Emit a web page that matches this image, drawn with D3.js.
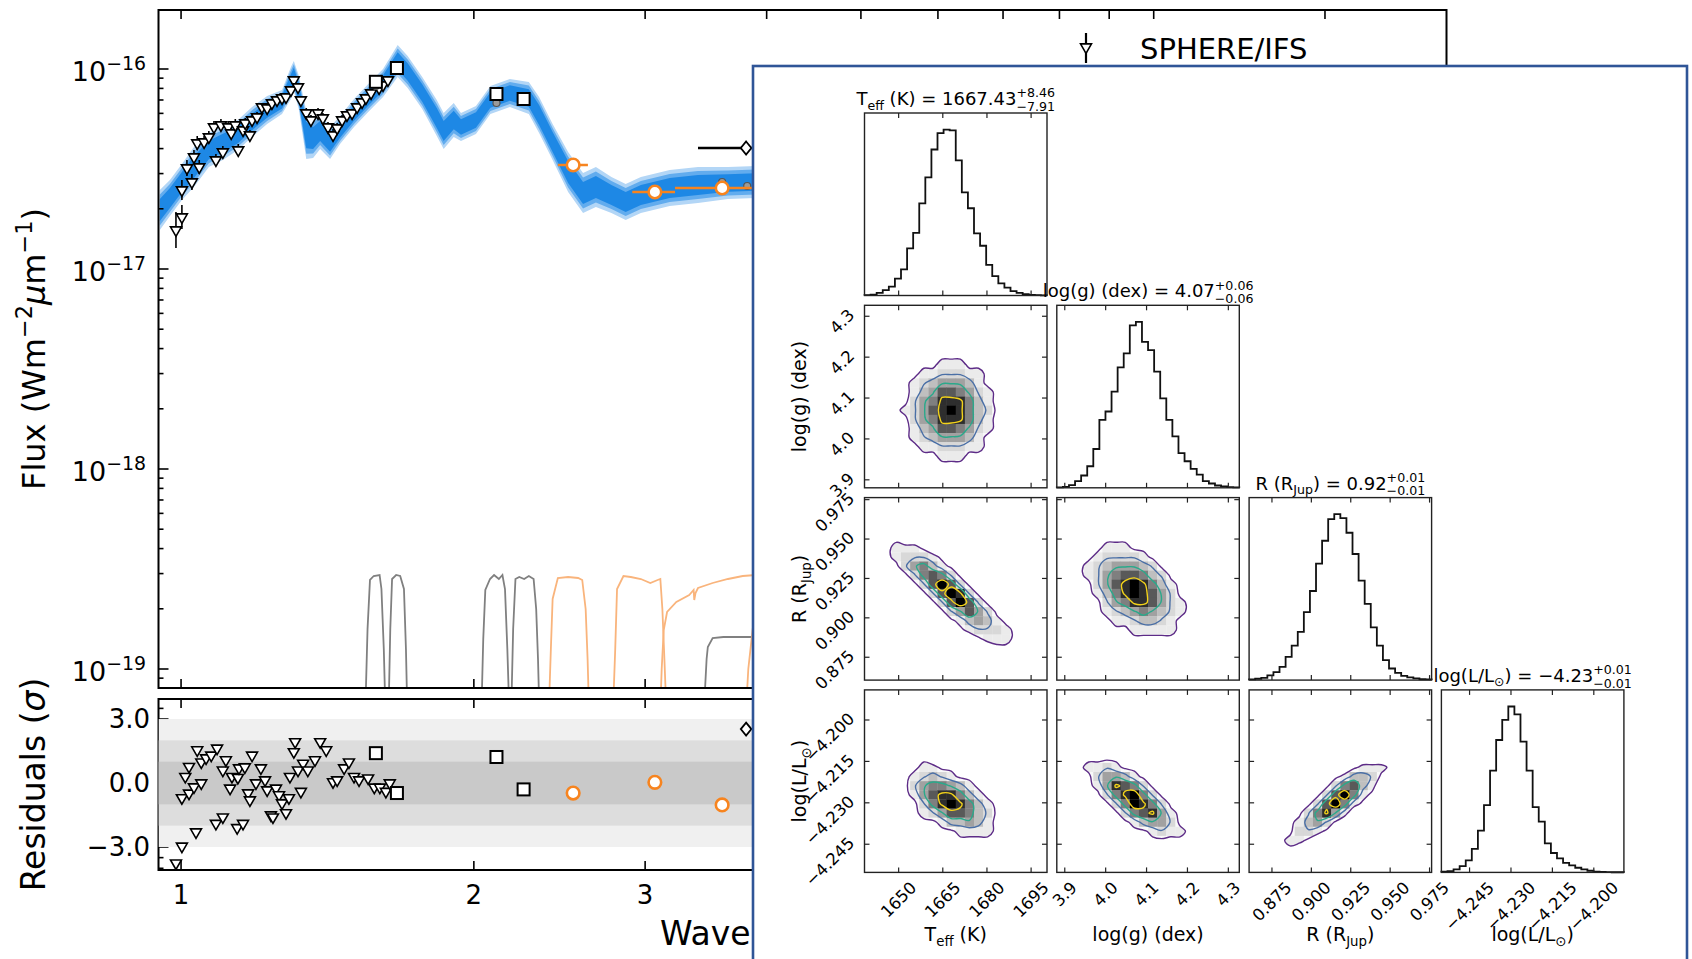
<!DOCTYPE html>
<html>
<head>
<meta charset="utf-8">
<script src="https://cdn.jsdelivr.net/npm/d3@7"></script>
<style>
  body { margin: 0; background: #fff; }
  svg text { font-family: "DejaVu Sans", sans-serif; fill: #000; }
</style>
</head>
<body>
<svg id="chart" width="1692" height="959"></svg>
<script>
/* global d3 */

// ---------------- spectrum panel data ----------------

var waveTicks = [1, 2, 3, 4, 5, 6, 7, 8, 9, 10, 15];
var waveTickLabels = ['1', '2', '3', '4', '5', '6', '7', '8', '9', '10', '15'];
var fluxDecades = [-16, -17, -18, -19];
var resTicks = [3, 0, -3];
var resTickLabels = ['3.0', '0.0', '\u22123.0'];

// best-fit model spectrum (log10 flux) and spread of the sampled models (dex)
var modelWave = [0.951, 0.974, 1.002, 1.031, 1.068, 1.104, 1.144, 1.183, 1.226, 1.27,
  1.297, 1.306, 1.322, 1.345, 1.367, 1.39, 1.423, 1.457, 1.506, 1.561,
  1.613, 1.67, 1.71, 1.77, 1.832, 1.862, 1.907, 1.94, 2.01, 2.08,
  2.178, 2.278, 2.334, 2.41, 2.5, 2.59, 2.67, 2.77, 2.865, 2.97,
  3.18, 3.4, 3.65, 3.9, 4.2];
var modelLogFlux = [-16.705, -16.645, -16.565, -16.49, -16.405, -16.37, -16.33, -16.265, -16.205, -16.165,
  -16.07, -16.035, -16.12, -16.33, -16.345, -16.31, -16.37, -16.305, -16.22, -16.14,
  -16.07, -15.96, -16.015, -16.12, -16.245, -16.31, -16.255, -16.29, -16.255, -16.155,
  -16.12, -16.145, -16.23, -16.365, -16.515, -16.62, -16.59, -16.63, -16.665, -16.63,
  -16.595, -16.58, -16.57, -16.565, -16.56];
var modelSpread = [0.1, 0.09, 0.09, 0.1, 0.085, 0.085, 0.075, 0.075, 0.07, 0.06,
  0.08, 0.075, 0.085, 0.12, 0.1, 0.09, 0.08, 0.07, 0.07, 0.07,
  0.07, 0.08, 0.08, 0.08, 0.09, 0.09, 0.085, 0.07, 0.07, 0.07,
  0.07, 0.08, 0.09, 0.09, 0.1, 0.1, 0.1, 0.09, 0.09, 0.09,
  0.09, 0.09, 0.08, 0.08, 0.08];

// SPHERE/IFS spectrum
var ifsWave = [0.988, 1.002, 1.002, 1.014, 1.026, 1.031, 1.039, 1.044, 1.056, 1.068,
  1.081, 1.086, 1.099, 1.104, 1.118, 1.126, 1.137, 1.145, 1.158, 1.164,
  1.177, 1.183, 1.197, 1.211, 1.226, 1.24, 1.255, 1.27, 1.282, 1.297,
  1.306, 1.319, 1.328, 1.345, 1.36, 1.383, 1.399, 1.416, 1.433, 1.447,
  1.464, 1.481, 1.499, 1.517, 1.535, 1.549, 1.568, 1.598, 1.613, 1.632];
var ifsLogFlux = [-16.805, -16.74, -16.605, -16.495, -16.565, -16.44, -16.37, -16.49, -16.365, -16.34,
  -16.29, -16.455, -16.28, -16.415, -16.29, -16.32, -16.28, -16.405, -16.305, -16.27,
  -16.33, -16.255, -16.24, -16.19, -16.195, -16.17, -16.155, -16.145, -16.14, -16.105,
  -16.055, -16.09, -16.155, -16.22, -16.255, -16.22, -16.245, -16.29, -16.33, -16.295,
  -16.255, -16.23, -16.22, -16.19, -16.165, -16.145, -16.12, -16.095, -16.08, -16.055];
var ifsErr = [0.09, 0.06, 0.05, 0.04, 0.04, 0.035, 0.035, 0.035, 0.03, 0.03,
  0.03, 0.03, 0.03, 0.03, 0.03, 0.03, 0.03, 0.03, 0.025, 0.025,
  0.025, 0.025, 0.025, 0.02, 0.02, 0.02, 0.02, 0.02, 0.02, 0.02,
  0.02, 0.02, 0.02, 0.025, 0.025, 0.025, 0.025, 0.025, 0.03, 0.025,
  0.025, 0.02, 0.02, 0.02, 0.02, 0.02, 0.02, 0.02, 0.02, 0.02];
var ifsResWave = [0.988, 1.002, 1.002, 1.01, 1.019, 1.019, 1.031, 1.036, 1.039, 1.049,
  1.049, 1.061, 1.074, 1.086, 1.089, 1.104, 1.104, 1.112, 1.123, 1.128,
  1.142, 1.144, 1.147, 1.158, 1.163, 1.172, 1.177, 1.183, 1.194, 1.208,
  1.22, 1.226, 1.237, 1.243, 1.252, 1.261, 1.27, 1.282, 1.291, 1.294,
  1.306, 1.31, 1.319, 1.328, 1.335, 1.35, 1.373, 1.39, 1.41, 1.433,
  1.447, 1.471, 1.488, 1.506, 1.524, 1.557, 1.58, 1.601, 1.624, 1.639];
var ifsRes = [-3.76, -2.97, -0.7, 0.3, -0.48, 0.77, -0.19, -2.3, 1.55, 0.98,
  0, 1.17, 1.3, -1.9, 1.63, -1.6, 0.6, 1.08, -0.25, 0.3,
  -2.1, 0.25, 0.7, -1.9, 0.75, -0.47, -0.8, 1.3, 0, 0.7,
  0.14, -0.33, -1.5, -1.6, -0.25, -0.56, -0.94, -1.4, -0.7, 0.3,
  1.46, 1.93, 0.6, -0.4, 0.92, 0.6, 1.08, 1.93, 1.55, 0.05,
  0.14, 0.7, 0.98, 0.3, 0.14, 0.23, -0.2, -0.2, -0.4, 0];

// broad-band photometry (squares)
var irdisWave = [1.586, 1.667, 2.11, 2.25];
var irdisLogFlux = [-16.064, -15.995, -16.125, -16.15];
var irdisRes = [1.4, -0.47, 1.22, -0.3];

// thermal IR photometry (orange circles)
var lpWave = [2.53, 3.07, 3.6];
var lpWaveLo = [2.44, 2.91, 3.22];
var lpWaveHi = [2.62, 3.22, 3.9];
var lpLogFlux = [-16.48, -16.615, -16.595];
var lpRes = [-0.47, 0.03, -1.03];

// diamond point
var dWave = [3.81];
var dWaveLo = [3.4];
var dWaveHi = [4.3];
var dLogFlux = [-16.395];
var dRes = [2.53];

// model photometry (small grey circles)
var synthWave = [1.586, 1.667, 2.11, 2.25, 3.6, 3.82];
var synthLogFlux = [-16.085, -16.0, -16.17, -16.14, -16.565, -16.585];

// filter transmission curves, drawn in flux units
var greyFilters = [
  [[1.545, -19.3], [1.555, -18.8], [1.564, -18.555], [1.578, -18.535], [1.6, -18.53], [1.607, -18.6], [1.616, -18.9], [1.624, -19.3]],
  [[1.633, -19.3], [1.641, -18.8], [1.648, -18.55], [1.664, -18.53], [1.68, -18.535], [1.695, -18.6], [1.703, -18.9], [1.71, -19.3]],
  [[2.034, -19.3], [2.045, -18.85], [2.055, -18.605], [2.078, -18.55], [2.098, -18.53], [2.122, -18.55], [2.14, -18.53], [2.153, -18.6], [2.165, -18.9], [2.178, -19.3]],
  [[2.183, -19.3], [2.195, -18.8], [2.207, -18.55], [2.227, -18.54], [2.253, -18.55], [2.278, -18.535], [2.304, -18.55], [2.318, -18.7], [2.328, -18.95], [2.338, -19.3]],
  [[3.44, -19.3], [3.47, -18.95], [3.48, -18.89], [3.52, -18.845], [3.61, -18.84], [4.2, -18.84]]
];
var orangeFilters = [
  [[2.385, -19.3], [2.4, -18.9], [2.41, -18.65], [2.44, -18.545], [2.5, -18.54], [2.56, -18.545], [2.585, -18.555], [2.606, -18.7], [2.618, -18.95], [2.63, -19.3]],
  [[2.776, -19.3], [2.795, -18.9], [2.807, -18.6], [2.85, -18.535], [2.9, -18.54], [2.97, -18.55], [3.037, -18.57], [3.09, -18.555], [3.11, -18.55], [3.125, -18.7], [3.14, -18.95], [3.16, -19.3]],
  [[3.105, -19.3], [3.12, -19.0], [3.135, -18.805], [3.16, -18.715], [3.23, -18.665], [3.33, -18.63], [3.365, -18.605], [3.37, -18.655], [3.38, -18.62], [3.4, -18.595], [3.52, -18.57], [3.65, -18.55], [3.78, -18.535], [3.9, -18.53], [4.3, -18.53]],
  [[3.8, -19.3], [3.83, -19.0], [3.87, -18.8], [3.95, -18.6], [4.3, -18.55]]
];

// ---------------- corner plot data ----------------

var teffRange = [1638.4, 1700.4];
var loggRange = [3.8805, 4.3268];
var radiusRange = [0.8605, 0.9763];
var lumRange = [-4.2552, -4.1891];

var teffTicks = [1650, 1665, 1680, 1695];
var loggTicks = [3.9, 4.0, 4.1, 4.2, 4.3];
var radiusTicks = [0.875, 0.9, 0.925, 0.95, 0.975];
var lumTicks = [-4.245, -4.23, -4.215, -4.2];
var teffTickLabels = ['1650', '1665', '1680', '1695'];
var loggTickLabels = ['3.9', '4.0', '4.1', '4.2', '4.3'];
var radiusTickLabels = ['0.875', '0.900', '0.925', '0.950', '0.975'];
var lumTickLabels = ['\u22124.245', '\u22124.230', '\u22124.215', '\u22124.200'];

// 1-D posteriors, 30 bins across each range (counts, peak = 1000)
var teffHist = [2, 5, 16, 33, 53, 102, 157, 284, 378, 555, 712, 880, 979, 1000, 995, 814, 622, 526, 374, 300, 184, 117, 73, 48, 26, 16, 8, 4, 2, 1];
var loggHist = [2, 5, 16, 40, 74, 130, 234, 410, 460, 580, 726, 810, 979, 1000, 880, 830, 700, 539, 410, 310, 209, 160, 114, 80, 40, 26, 14, 8, 4, 2];
var radiusHist = [4, 8, 14, 29, 48, 80, 140, 208, 291, 410, 537, 702, 840, 970, 1000, 976, 888, 760, 600, 460, 318, 208, 121, 70, 44, 26, 16, 10, 5, 4];
var lumHist = [4, 8, 18, 38, 73, 142, 252, 405, 613, 798, 919, 1000, 952, 788, 613, 394, 306, 175, 117, 84, 58, 42, 28, 18, 10, 5, 3, 2, 1, 1];

// 2-D posteriors, 20x20 bins, density 0-9, rows from the top (high value) down
var teffLoggGrid = [
  '00000000000000000000', '00000000000000000000', '00000000000000000000', '00000000000000000000',
  '00000000000000000000', '00000001111100000000', '00000111222111000000', '00001122333221000000',
  '00001234555421100000', '00011245776532100000', '00011356888642110000', '00012357898643110000',
  '00011356888642110000', '00011245776532100000', '00001234555421100000', '00001122333221000000',
  '00000111222111000000', '00000001111100000000', '00000000000000000000', '00000000000000000000'
];
var teffRadiusGrid = [
  '00000000000000000000', '00000000000000000000', '00000000000000000000', '00000000000000000000',
  '00110000000000000000', '00122210000000000000', '00123332100000000000', '00013564210000000000',
  '00001367631000000000', '00000137973100000000', '00000013798310000000', '00000001379731000000',
  '00000000135753100000', '00000000012454210000', '00000000001233321000', '00000000000012221000',
  '00000000000000110000', '00000000000000000000', '00000000000000000000', '00000000000000000000'
];
var teffLumGrid = [
  '00000000000000000000', '00000000000000000000', '00000000000000000000', '00000000000000000000',
  '00000000000000000000', '00000000000000000000', '00000000000000000000', '00000110000000000000',
  '00011122110000000000', '00011234321100000000', '00011356654210000000', '00001257886421000000',
  '00001136898642100000', '00000123577643100000', '00000011244542110000', '00000000112222110000',
  '00000000001111100000', '00000000000000000000', '00000000000000000000', '00000000000000000000'
];
var loggRadiusGrid = [
  '00000000000000000000', '00000000000000000000', '00000000000000000000', '00000000000000000000',
  '00001111000000000000', '00111222111000000000', '00112333321100000000', '00123455543110000000',
  '00123567764311000000', '00113578986421000000', '00012468987531100000', '00011356887532100000',
  '00001234565432100000', '00000122344321100000', '00000011222221100000', '00000000111111000000',
  '00000000000000000000', '00000000000000000000', '00000000000000000000', '00000000000000000000'
];
var loggLumGrid = [
  '00000000000000000000', '00000000000000000000', '00000000000000000000', '00000000000000000000',
  '00000000000000000000', '00000000000000000000', '00010000000000000000', '00111110000000000000',
  '00122321100000000000', '00113554210000000000', '00012587631000000000', '00001368963100000000',
  '00000136986310000000', '00000013678521000000', '00000001245531100000', '00000000112322100000',
  '00000000001111100000', '00000000000000000000', '00000000000000000000', '00000000000000000000'
];
var radiusLumGrid = [
  '00000000000000000000', '00000000000000000000', '00000000000000000000', '00000000000000000000',
  '00000000000000000000', '00000000000000000000', '00000000000000000000', '00000000000000000000',
  '00000000000122210000', '00000000012443100000', '00000000136742000000', '00000001379621000000',
  '00000013796210000000', '00000136852000000000', '00001245310000000000', '00001332100000000000',
  '00012210000000000000', '00001000000000000000', '00000000000000000000', '00000000000000000000'
];

var contourLevels = [1.4, 3.2, 5.2, 7.6];

// ---------------- layout ----------------

var FIG = { left: 158.5, right: 1446.5, top: 10, bottom: 688, resTop: 699, resBottom: 870 };
var CORNER = { left: 864.5, top: 113, step: 192.3, size: 182.5 };
var INSET = { x: 753, y: 66, w: 934, h: 910 };

var BAND_COLORS = ['#b3d6f6', '#62acee', '#1e88e5'];
var ORANGE = '#f7841f';
var CONTOUR_COLORS = ['#5d2c87', '#4a6fa6', '#2aa98b', '#f2d21b'];

var svg = d3.select('#chart');
var defs = svg.append('defs');

var x = d3.scaleLog().domain([0.948, 20]).range([FIG.left, FIG.right]);
var yFlux = d3.scaleLog().domain([Math.pow(10, -19.095), Math.pow(10, -15.705)]).range([FIG.bottom, FIG.top]);
var yRes = d3.scaleLinear().domain([-4.08, 3.94]).range([FIG.resBottom, FIG.resTop]);

function fy(logF) { return yFlux(Math.pow(10, logF)); }


/**
 * Appends a text made of plain / superscript / subscript / italic pieces
 */
function addRich(parent, parts, size) {
  var t = parent.append('text').attr('font-size', size);
  var shift = 0;
  parts.forEach(function (p) {
    var ts = t.append('tspan').text(p.t);
    var target = p.sup ? -0.42 * size : (p.sub ? 0.25 * size : 0);
    if (target !== shift) { ts.attr('dy', target - shift); shift = target; }
    if (p.sup || p.sub) ts.attr('font-size', 0.7 * size);
    if (p.it) ts.attr('font-style', 'italic');
  });
  return t;
}

function downTriangle(g, cx, cy) {
  g.append('path')
    .attr('d', d3.symbol().type(d3.symbolTriangle).size(52)())
    .attr('transform', 'translate(' + cx + ',' + cy + ') rotate(180)')
    .attr('fill', '#fff').attr('stroke', '#000').attr('stroke-width', 1.6);
}

function square(g, cx, cy) {
  g.append('rect')
    .attr('x', cx - 6).attr('y', cy - 6).attr('width', 12).attr('height', 12)
    .attr('fill', '#fff').attr('stroke', '#000').attr('stroke-width', 2);
}

function orangeCircle(g, cx, cy) {
  g.append('circle').attr('cx', cx).attr('cy', cy).attr('r', 6.3)
    .attr('fill', '#fff').attr('stroke', ORANGE).attr('stroke-width', 2.6);
}

function diamond(g, cx, cy) {
  g.append('path').attr('d', 'M0,-6.5L5.3,0L0,6.5L-5.3,0Z')
    .attr('transform', 'translate(' + cx + ',' + cy + ')')
    .attr('fill', '#fff').attr('stroke', '#000').attr('stroke-width', 1.8);
}


// ---------------- upper panel: spectrum ----------------

defs.append('clipPath').attr('id', 'clipFlux').append('rect')
  .attr('x', FIG.left).attr('y', FIG.top)
  .attr('width', FIG.right - FIG.left).attr('height', FIG.bottom - FIG.top);

var fluxG = svg.append('g').attr('clip-path', 'url(#clipFlux)');

var modelPts = modelWave.map(function (w, i) {
  return { w: w, f: modelLogFlux[i], s: modelSpread[i] };
});

[1.0, 0.78, 0.55].forEach(function (k, i) {
  fluxG.append('path').datum(modelPts)
    .attr('fill', BAND_COLORS[i])
    .attr('d', d3.area()
      .x(function (d) { return x(d.w); })
      .y0(function (d) { return fy(d.f - d.s * k); })
      .y1(function (d) { return fy(d.f + d.s * k); }));
});

var filterLine = d3.line()
  .x(function (d) { return x(d[0]); })
  .y(function (d) { return fy(d[1]); });

greyFilters.forEach(function (f) {
  fluxG.append('path').datum(f).attr('d', filterLine)
    .attr('fill', 'none').attr('stroke', '#808080').attr('stroke-width', 1.8);
});
orangeFilters.forEach(function (f) {
  fluxG.append('path').datum(f).attr('d', filterLine)
    .attr('fill', 'none').attr('stroke', '#f9b47c').attr('stroke-width', 1.8);
});

// IFS spectrum
ifsWave.forEach(function (w, i) {
  fluxG.append('line')
    .attr('x1', x(w)).attr('x2', x(w))
    .attr('y1', fy(ifsLogFlux[i] - ifsErr[i])).attr('y2', fy(ifsLogFlux[i] + ifsErr[i]))
    .attr('stroke', '#000').attr('stroke-width', 1.6);
});
ifsWave.forEach(function (w, i) { downTriangle(fluxG, x(w), fy(ifsLogFlux[i])); });

// model photometry
synthWave.forEach(function (w, i) {
  fluxG.append('circle').attr('cx', x(w)).attr('cy', fy(synthLogFlux[i])).attr('r', 3.5)
    .attr('fill', '#9a9a9a').attr('stroke', '#555').attr('stroke-width', 1.2);
});

irdisWave.forEach(function (w, i) { square(fluxG, x(w), fy(irdisLogFlux[i])); });

lpWave.forEach(function (w, i) {
  fluxG.append('line')
    .attr('x1', x(lpWaveLo[i])).attr('x2', x(lpWaveHi[i]))
    .attr('y1', fy(lpLogFlux[i])).attr('y2', fy(lpLogFlux[i]))
    .attr('stroke', ORANGE).attr('stroke-width', 2.6);
});
lpWave.forEach(function (w, i) { orangeCircle(fluxG, x(w), fy(lpLogFlux[i])); });

dWave.forEach(function (w, i) {
  fluxG.append('line')
    .attr('x1', x(dWaveLo[i])).attr('x2', x(dWaveHi[i]))
    .attr('y1', fy(dLogFlux[i])).attr('y2', fy(dLogFlux[i]))
    .attr('stroke', '#000').attr('stroke-width', 2.6);
  diamond(fluxG, x(w), fy(dLogFlux[i]));
});

// frame, ticks and labels
var axG = svg.append('g').attr('stroke', '#000');

axG.append('rect')
  .attr('x', FIG.left).attr('y', FIG.top)
  .attr('width', FIG.right - FIG.left).attr('height', FIG.bottom - FIG.top)
  .attr('fill', 'none').attr('stroke-width', 2);

function xTicks(top, bottom) {
  waveTicks.forEach(function (t) {
    axG.append('line').attr('x1', x(t)).attr('x2', x(t))
      .attr('y1', bottom).attr('y2', bottom - 9).attr('stroke-width', 1.6);
    axG.append('line').attr('x1', x(t)).attr('x2', x(t))
      .attr('y1', top).attr('y2', top + 9).attr('stroke-width', 1.6);
  });
}
xTicks(FIG.top, FIG.bottom);

yFlux.ticks().forEach(function (v) {
  var lg = Math.log10(v);
  var major = Math.abs(lg - Math.round(lg)) < 1e-6;
  var len = major ? 10 : 5;
  var yy = yFlux(v);
  axG.append('line').attr('x1', FIG.left).attr('x2', FIG.left + len)
    .attr('y1', yy).attr('y2', yy).attr('stroke-width', 1.6);
  axG.append('line').attr('x1', FIG.right).attr('x2', FIG.right - len)
    .attr('y1', yy).attr('y2', yy).attr('stroke-width', 1.6);
});

fluxDecades.forEach(function (d) {
  var g = svg.append('g').attr('transform', 'translate(146,' + (fy(d) + 12) + ')');
  addRich(g, [{ t: '10' }, { t: '\u2212' + String(-d), sup: true }], 27)
    .attr('text-anchor', 'end');
});

var fluxLabel = svg.append('g').attr('transform', 'translate(45,' + ((FIG.top + FIG.bottom) / 2) + ') rotate(-90)');
addRich(fluxLabel, [
  { t: 'Flux (Wm' }, { t: '\u22122', sup: true }, { t: '\u03bc', it: true },
  { t: 'm' }, { t: '\u22121', sup: true }, { t: ')' }
], 32).attr('text-anchor', 'middle');


// ---------------- lower panel: residuals ----------------

defs.append('clipPath').attr('id', 'clipRes').append('rect')
  .attr('x', FIG.left).attr('y', FIG.resTop)
  .attr('width', FIG.right - FIG.left).attr('height', FIG.resBottom - FIG.resTop);

var resG = svg.append('g').attr('clip-path', 'url(#clipRes)');

[[3, '#f0f0f0'], [2, '#dddddd'], [1, '#c9c9c9']].forEach(function (b) {
  resG.append('rect')
    .attr('x', FIG.left).attr('width', FIG.right - FIG.left)
    .attr('y', yRes(b[0])).attr('height', yRes(-b[0]) - yRes(b[0]))
    .attr('fill', b[1]);
});

ifsResWave.forEach(function (w, i) { downTriangle(resG, x(w), yRes(ifsRes[i])); });
irdisWave.forEach(function (w, i) { square(resG, x(w), yRes(irdisRes[i])); });
lpWave.forEach(function (w, i) { orangeCircle(resG, x(w), yRes(lpRes[i])); });
dWave.forEach(function (w, i) { diamond(resG, x(w), yRes(dRes[i])); });

axG.append('rect')
  .attr('x', FIG.left).attr('y', FIG.resTop)
  .attr('width', FIG.right - FIG.left).attr('height', FIG.resBottom - FIG.resTop)
  .attr('fill', 'none').attr('stroke-width', 2);

xTicks(FIG.resTop, FIG.resBottom);

d3.range(-4, 4, 0.5).forEach(function (v) {
  var major = v % 3 === 0;
  var len = major ? 10 : 5;
  axG.append('line').attr('x1', FIG.left).attr('x2', FIG.left + len)
    .attr('y1', yRes(v)).attr('y2', yRes(v)).attr('stroke-width', 1.6);
  axG.append('line').attr('x1', FIG.right).attr('x2', FIG.right - len)
    .attr('y1', yRes(v)).attr('y2', yRes(v)).attr('stroke-width', 1.6);
});

resTicks.forEach(function (v, i) {
  svg.append('text').attr('x', 150).attr('y', yRes(v) + 9)
    .attr('font-size', 26).attr('text-anchor', 'end').text(resTickLabels[i]);
});

waveTicks.forEach(function (t, i) {
  svg.append('text').attr('x', x(t)).attr('y', 904)
    .attr('font-size', 26).attr('text-anchor', 'middle').text(waveTickLabels[i]);
});

var resLabel = svg.append('g').attr('transform', 'translate(45,' + ((FIG.resTop + FIG.resBottom) / 2) + ') rotate(-90)');
addRich(resLabel, [{ t: 'Residuals (' }, { t: '\u03c3', it: true }, { t: ')' }], 33)
  .attr('text-anchor', 'middle');

var wl = svg.append('g').attr('transform', 'translate(' + ((FIG.left + FIG.right) / 2) + ',945)');
addRich(wl, [{ t: 'Wavelength (' }, { t: '\u03bc', it: true }, { t: 'm)' }], 33)
  .attr('text-anchor', 'middle');

// legend
svg.append('line').attr('x1', 1086).attr('x2', 1086).attr('y1', 33).attr('y2', 63)
  .attr('stroke', '#000').attr('stroke-width', 2.2);
downTriangle(svg, 1086, 47);
svg.append('text').attr('x', 1140).attr('y', 59).attr('font-size', 29).text('SPHERE/IFS');


// ---------------- inset: corner plot ----------------

svg.append('rect')
  .attr('x', INSET.x).attr('y', INSET.y).attr('width', INSET.w).attr('height', INSET.h)
  .attr('fill', '#fff').attr('stroke', '#2f5597').attr('stroke-width', 2.6);

var cornerRanges = [teffRange, loggRange, radiusRange, lumRange];
var cornerTicks = [teffTicks, loggTicks, radiusTicks, lumTicks];
var cornerTickLabels = [teffTickLabels, loggTickLabels, radiusTickLabels, lumTickLabels];
var cornerHists = [teffHist, loggHist, radiusHist, lumHist];
var cornerGrids = {
  '1-0': teffLoggGrid, '2-0': teffRadiusGrid, '3-0': teffLumGrid,
  '2-1': loggRadiusGrid, '3-1': loggLumGrid, '3-2': radiusLumGrid
};
var cornerLabels = [
  [{ t: 'T' }, { t: 'eff', sub: true }, { t: ' (K)' }],
  [{ t: 'log(g) (dex)' }],
  [{ t: 'R (R' }, { t: 'Jup', sub: true }, { t: ')' }],
  [{ t: 'log(L/L' }, { t: '\u2299', sub: true }, { t: ')' }]
];
var cornerValues = [
  ['1667.43', '+8.46', '\u22127.91'],
  ['4.07', '+0.06', '\u22120.06'],
  ['0.92', '+0.01', '\u22120.01'],
  ['\u22124.23', '+0.01', '\u22120.01']
];

var cg = svg.append('g');
var smoothRing = d3.line().curve(d3.curveCatmullRomClosed);

function panelScales(r, c) {
  var px = CORNER.left + c * CORNER.step;
  var py = CORNER.top + r * CORNER.step;
  return {
    px: px, py: py,
    xs: d3.scaleLinear().domain(cornerRanges[c]).range([px, px + CORNER.size]),
    ys: d3.scaleLinear().domain(cornerRanges[r]).range([py + CORNER.size, py])
  };
}

function drawFrame(g, S, r, c, yTicksOn) {
  var fr = g.append('g').attr('stroke', '#222');
  fr.append('rect').attr('x', S.px).attr('y', S.py)
    .attr('width', CORNER.size).attr('height', CORNER.size)
    .attr('fill', 'none').attr('stroke-width', 1.4);
  cornerTicks[c].forEach(function (t) {
    var xx = S.xs(t);
    fr.append('line').attr('x1', xx).attr('x2', xx).attr('y1', S.py).attr('y2', S.py + 5).attr('stroke-width', 1.2);
    fr.append('line').attr('x1', xx).attr('x2', xx)
      .attr('y1', S.py + CORNER.size).attr('y2', S.py + CORNER.size - 5).attr('stroke-width', 1.2);
  });
  if (yTicksOn) {
    cornerTicks[r].forEach(function (t) {
      var yy = S.ys(t);
      fr.append('line').attr('x1', S.px).attr('x2', S.px + 5).attr('y1', yy).attr('y2', yy).attr('stroke-width', 1.2);
      fr.append('line').attr('x1', S.px + CORNER.size).attr('x2', S.px + CORNER.size - 5)
        .attr('y1', yy).attr('y2', yy).attr('stroke-width', 1.2);
    });
  }
}

function drawTitle(k, S) {
  var size = 18;
  var grp = cg.append('g');
  var parts = cornerLabels[k].concat([{ t: ' = ' + cornerValues[k][0] }]);
  var main = addRich(grp, parts, size);
  var w = main.node().getComputedTextLength();
  var up = grp.append('text').attr('x', w).attr('y', -0.42 * size).attr('font-size', 0.7 * size).text(cornerValues[k][1]);
  var dn = grp.append('text').attr('x', w).attr('y', 0.32 * size).attr('font-size', 0.7 * size).text(cornerValues[k][2]);
  var tw = w + Math.max(up.node().getComputedTextLength(), dn.node().getComputedTextLength());
  grp.attr('transform', 'translate(' + (S.px + CORNER.size / 2 - tw / 2) + ',' + (S.py - 8) + ')');
}

// density -> grey, light in the wings as in the reference
function shade(v) {
  var g = Math.round(255 * (1 - Math.pow(v / 9, 1.7)));
  return 'rgb(' + g + ',' + g + ',' + g + ')';
}

for (var r = 0; r < 4; r++) {
  for (var c = 0; c <= r; c++) {
    var S = panelScales(r, c);
    var rx = cornerRanges[c], ry = cornerRanges[r];

    if (r === c) {
      var hist = cornerHists[c];
      var hy = d3.scaleLinear().domain([0, 1.1 * d3.max(hist)]).range([S.py + CORNER.size, S.py]);
      var bw = (rx[1] - rx[0]) / hist.length;
      var pts = [[rx[0], 0]];
      hist.forEach(function (h, k) { pts.push([rx[0] + k * bw, h]); });
      pts.push([rx[1], hist[hist.length - 1]]);
      pts.push([rx[1], 0]);
      cg.append('path').datum(pts)
        .attr('d', d3.line().curve(d3.curveStepAfter)
          .x(function (d) { return S.xs(d[0]); })
          .y(function (d) { return hy(d[1]); }))
        .attr('fill', 'none').attr('stroke', '#111').attr('stroke-width', 1.8);
      drawFrame(cg, S, r, c, false);
      drawTitle(c, S);
    } else {
      var grid = cornerGrids[r + '-' + c];
      var n = grid.length;
      var values = [];
      grid.forEach(function (row) { row.split('').forEach(function (ch) { values.push(+ch); }); });
      var dx = (rx[1] - rx[0]) / n, dy = (ry[1] - ry[0]) / n;
      var toPix = function (p) { return [S.xs(rx[0] + p[0] * dx), S.ys(ry[1] - p[1] * dy)]; };

      var contours = d3.contours().size([n, n]).thresholds(contourLevels)(values);
      var ringPaths = contours.map(function (cn) {
        var dStr = '';
        cn.coordinates.forEach(function (poly) {
          poly.forEach(function (ring) {
            var pr = ring.slice(0, ring.length - 1).map(toPix);
            if (pr.length > 2) dStr += smoothRing(pr);
          });
        });
        return dStr;
      });

      var clipId = 'cl' + r + c;
      defs.append('clipPath').attr('id', clipId).append('path').attr('d', ringPaths[0]);

      var cells = cg.append('g').attr('clip-path', 'url(#' + clipId + ')');
      values.forEach(function (v, idx) {
        if (!v) return;
        var i = idx % n, j = Math.floor(idx / n);
        var x0 = S.xs(rx[0] + i * dx), x1 = S.xs(rx[0] + (i + 1) * dx);
        var y0 = S.ys(ry[1] - j * dy), y1 = S.ys(ry[1] - (j + 1) * dy);
        cells.append('rect').attr('x', x0).attr('y', y0)
          .attr('width', x1 - x0 + 0.3).attr('height', y1 - y0 + 0.3)
          .attr('fill', shade(v));
      });

      ringPaths.forEach(function (dStr, k) {
        cg.append('path').attr('d', dStr).attr('fill', 'none')
          .attr('stroke', CONTOUR_COLORS[k]).attr('stroke-width', 1.4);
      });
      drawFrame(cg, S, r, c, true);
    }

    // tick labels on the outer edges
    if (r === 3) {
      cornerTicks[c].forEach(function (t, k) {
        var lab = cg.append('text').attr('font-size', 16.5)
          .attr('text-anchor', 'end').attr('dominant-baseline', 'central')
          .text(cornerTickLabels[c][k]);
        var L = lab.node().getComputedTextLength();
        lab.attr('transform', 'translate(' + (S.xs(t) + 0.354 * L) + ',' + (880 + 5) + ') rotate(-45)');
      });
      var xl = cg.append('g').attr('transform', 'translate(' + (S.px + CORNER.size / 2) + ',941)');
      addRich(xl, cornerLabels[c], 19).attr('text-anchor', 'middle');
    }
    if (c === 0 && r > 0) {
      cornerTicks[r].forEach(function (t, k) {
        cg.append('text').attr('font-size', 16.5)
          .attr('text-anchor', 'end').attr('dominant-baseline', 'central')
          .attr('transform', 'translate(' + (S.px - 13) + ',' + (S.ys(t) - 4) + ') rotate(-45)')
          .text(cornerTickLabels[r][k]);
      });
      var yl = cg.append('g').attr('transform', 'translate(806,' + (S.py + CORNER.size / 2) + ') rotate(-90)');
      addRich(yl, cornerLabels[r], 19).attr('text-anchor', 'middle');
    }
  }
}
</script>
</body>
</html>
